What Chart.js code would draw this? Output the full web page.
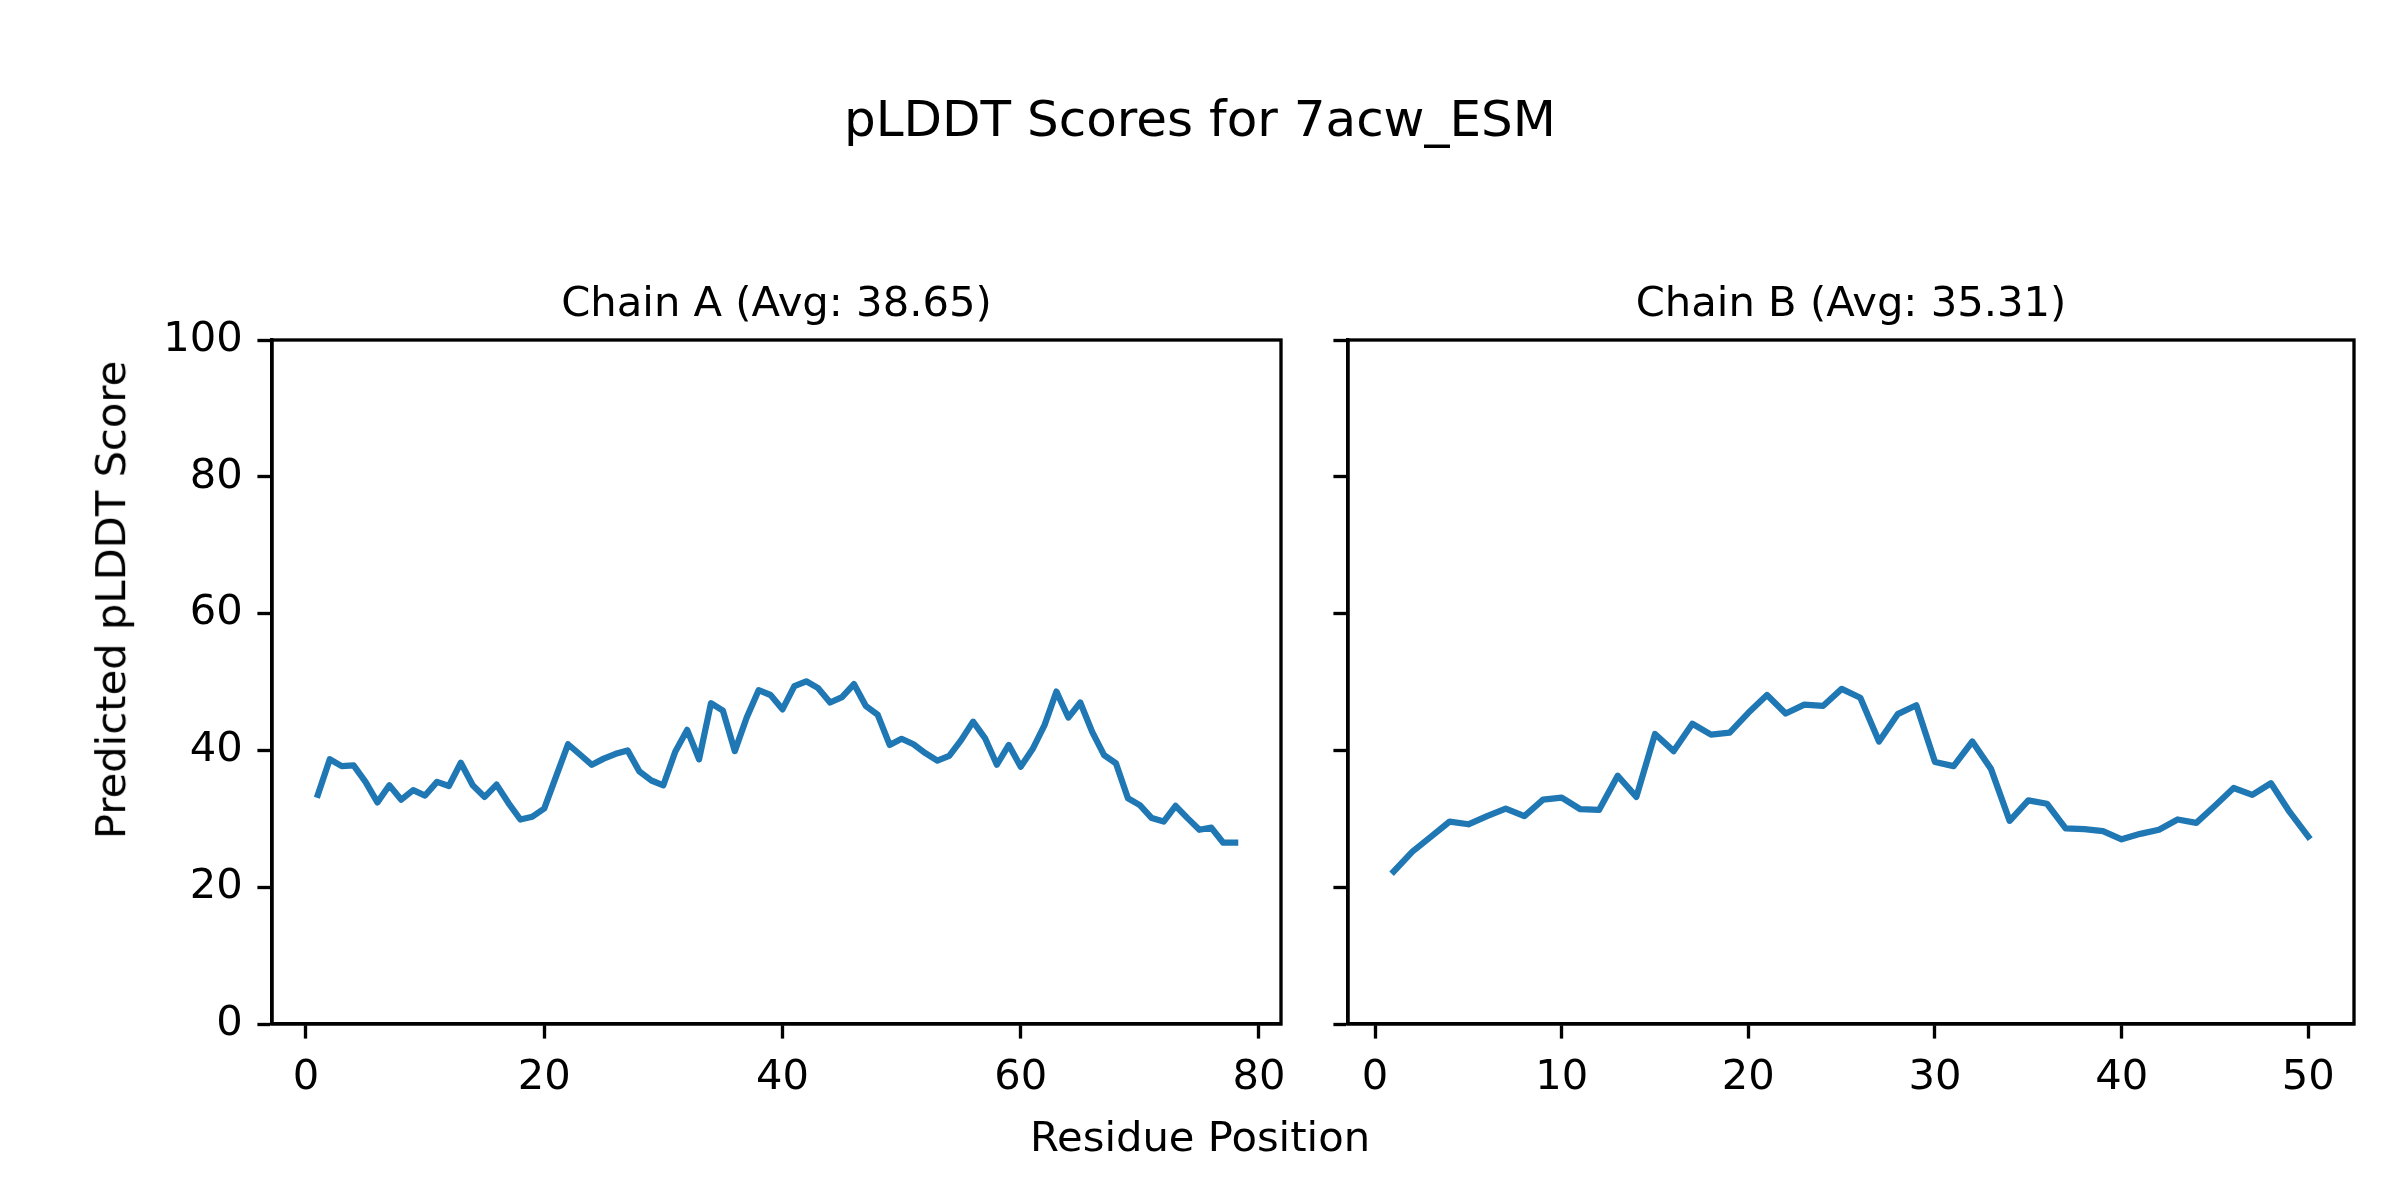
<!DOCTYPE html>
<html>
<head>
<meta charset="utf-8">
<script src="https://cdn.jsdelivr.net/npm/chart.js@4.4.0/dist/chart.umd.min.js"></script>
<style>
  body { margin: 0; background: #fff; }
  #wrap { position: relative; width: 2400px; height: 1200px; background: #fff; font-family: "DejaVu Sans", sans-serif; color: #000; }
  .txt { position: absolute; white-space: nowrap; text-align: center; }
  canvas { position: absolute; top: 0; }
</style>
</head>
<body>
<div id="wrap">
  <canvas id="chartA" width="1320" height="1200" style="left:0;"></canvas>
  <canvas id="chartB" width="1080" height="1200" style="left:1320px;"></canvas>
  <div class="txt" id="suptitle" style="left:0; width:2400px; top:94px; font-size:50px; line-height:50px;">pLDDT Scores for 7acw_ESM</div>
  <div class="txt" id="titelA" style="left:272px; width:1009px; top:281px; font-size:41.7px; line-height:41.7px;"></div>
  <div class="txt" id="titelB" style="left:1348px; width:1006px; top:281px; font-size:41.7px; line-height:41.7px;"></div>
  <div class="txt" id="xlabel" style="left:0; width:2400px; top:1116px; font-size:41.7px; line-height:41.7px;">Residue Position</div>
  <div class="txt" id="ylabel" style="left:-489px; width:1200px; top:579px; height:41.7px; font-size:41.7px; line-height:41.7px; transform:rotate(-90deg);">Predicted pLDDT Score</div>
</div>
<script>
// pLDDT pro Residue, Chain A (1..78) und Chain B (1..50)
const chainA = [
  33.5, 38.7, 37.7, 37.8, 35.4, 32.4, 34.9, 32.8, 34.2, 33.4,
  35.4, 34.8, 38.2, 34.9, 33.2, 35.0, 32.3, 29.9, 30.3, 31.5,
  36.2, 40.9, 39.4, 37.9, 38.8, 39.5, 40.0, 36.9, 35.6, 34.9,
  39.8, 43.0, 38.7, 46.9, 45.8, 39.9, 44.8, 48.8, 48.1, 46.0,
  49.4, 50.1, 49.1, 47.0, 47.8, 49.7, 46.5, 45.2, 40.8, 41.7,
  40.9, 39.6, 38.5, 39.2, 41.5, 44.2, 41.8, 37.9, 40.8, 37.6,
  40.2, 43.7, 48.6, 44.8, 47.0, 42.7, 39.3, 38.1, 33.0, 32.0,
  30.1, 29.6, 31.9, 30.1, 28.4, 28.7, 26.5, 26.5
];
const chainB = [
  22.3, 25.2, 27.4, 29.6, 29.2, 30.4, 31.5, 30.4, 32.8, 33.1,
  31.4, 31.3, 36.3, 33.2, 42.4, 39.9, 43.9, 42.3, 42.6, 45.5,
  48.1, 45.4, 46.7, 46.5, 49.0, 47.7, 41.3, 45.3, 46.6, 38.3,
  37.7, 41.3, 37.3, 29.7, 32.7, 32.2, 28.6, 28.5, 28.2, 27.0,
  27.8, 28.4, 29.9, 29.4, 31.9, 34.5, 33.5, 35.2, 31.0, 27.4
];
const titleA = "Chain A (Avg: 38.65)";
const titleB = "Chain B (Avg: 35.31)";
const yTicks = [0, 20, 40, 60, 80, 100];

document.getElementById("titelA").textContent = titleA;
document.getElementById("titelB").textContent = titleB;

const blau = "#1f77b4";
const px = 300 / 72; // 300 dpi

Chart.defaults.font.family = "'DejaVu Sans', sans-serif";
Chart.defaults.font.size = 10 * px;
Chart.defaults.color = "#000";

// Rahmen um die Plotflaeche (alle vier Seiten)
const rahmen = {
  id: "rahmen",
  afterDraw(chart) {
    const a = chart.chartArea;
    const ctx = chart.ctx;
    ctx.save();
    ctx.strokeStyle = "#000";
    ctx.lineWidth = 0.8 * px;
    ctx.strokeRect(a.left, a.top, a.right - a.left, a.bottom - a.top);
    ctx.restore();
  }
};

function punkte(werte) {
  return werte.map((v, i) => ({ x: i + 1, y: v }));
}

function achse(extra) {
  return Object.assign({
    type: "linear",
    grid: { display: true, drawOnChartArea: false, drawTicks: true, tickLength: 3.5 * px, tickWidth: 0.8 * px, color: "#000" },
    border: { display: true, width: 0.8 * px, color: "#000" },
  }, extra);
}

function baueChart(id, werte, opts) {
  return new Chart(document.getElementById(id), {
    type: "line",
    data: {
      datasets: [{
        data: punkte(werte),
        borderColor: blau,
        borderWidth: 1.5 * px,
        pointRadius: 0,
        tension: 0,
        borderJoinStyle: "round",
        borderCapStyle: "square",
        fill: false
      }]
    },
    options: {
      responsive: false,
      animation: false,
      devicePixelRatio: 1,
      layout: { padding: { left: 0, right: opts.padRight, top: 340, bottom: 76 } },
      plugins: {
        legend: { display: false },
        tooltip: { enabled: false },
        title: { display: false }
      },
      scales: {
        x: achse({
          position: "bottom",
          min: opts.xMin,
          max: opts.xMax,
          ticks: { stepSize: opts.xStep, includeBounds: false, padding: 3.5 * px, maxRotation: 0 },
          afterFit: (s) => { s.height = 100; }
        }),
        y: achse({
          position: "left",
          min: 0,
          max: 100,
          afterBuildTicks: (s) => { s.ticks = yTicks.map(v => ({ value: v })); },
          ticks: { display: opts.yLabels, padding: 3.5 * px },
          afterFit: (s) => { s.width = opts.yWidth; }
        })
      }
    },
    plugins: [rahmen]
  });
}

baueChart("chartA", chainA, { xMin: -2.85, xMax: 81.85, xStep: 20, padRight: 39, yWidth: 272, yLabels: true });
baueChart("chartB", chainB, { xMin: -1.45, xMax: 52.45, xStep: 10, padRight: 46, yWidth: 28, yLabels: false });
</script>
</body>
</html>
